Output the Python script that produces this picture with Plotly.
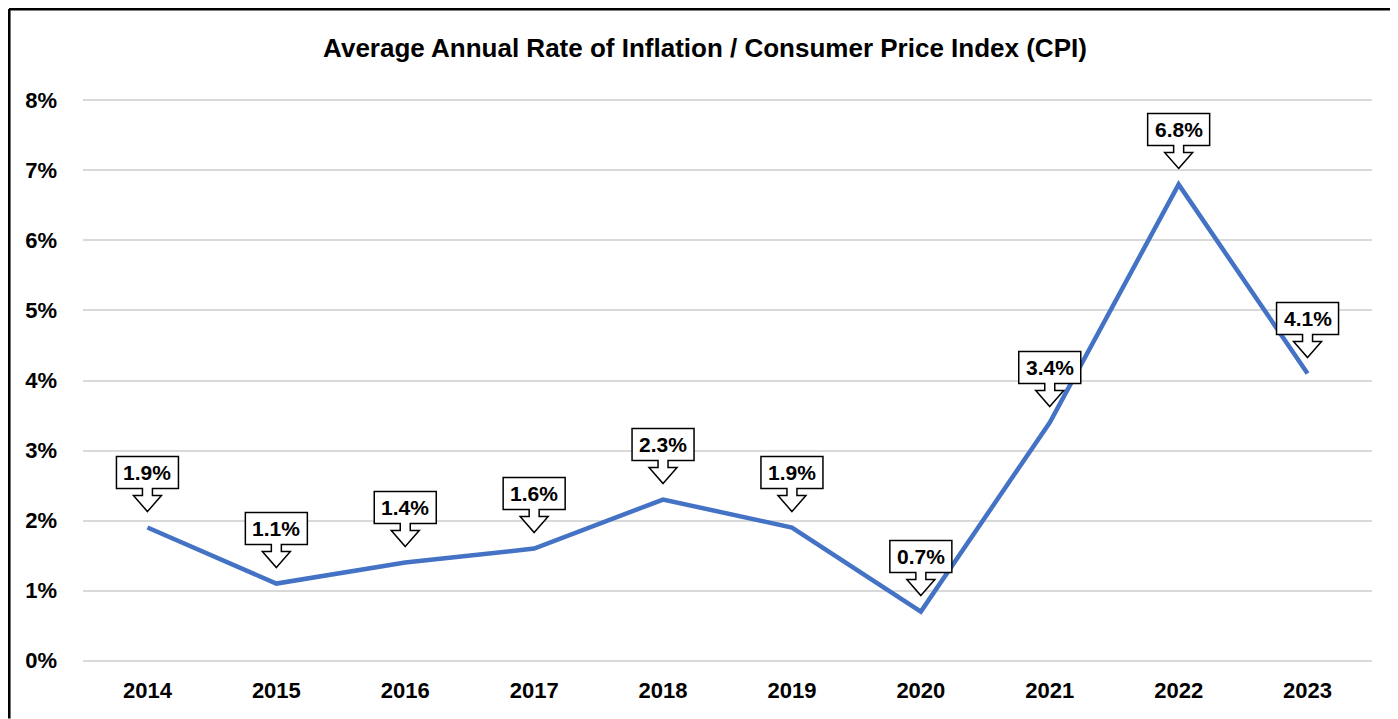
import plotly.graph_objects as go

years = ["2014", "2015", "2016", "2017", "2018", "2019", "2020", "2021", "2022", "2023"]
cpi_rate = [1.9, 1.1, 1.4, 1.6, 2.3, 1.9, 0.7, 3.4, 6.8, 4.1]
y_ticks = [0, 1, 2, 3, 4, 5, 6, 7, 8]

# page adds an 8px body margin, so the figure is sized to the rest of the window
W, H = 1390, 711
M_L, M_R, M_T, M_B = 74.5, 25.5, 90.6, 56.6
FONT = "Liberation Sans, Arial, sans-serif"

# callout outline in pixels, relative to the data point (y up)
CALLOUT = [(0, 16), (14, 32), (5, 32), (5, 39), (31, 39), (31, 71),
           (-31, 71), (-31, 39), (-5, 39), (-5, 32), (-14, 32)]
callout_path = "M" + "L".join(f"{x},{y}" for x, y in CALLOUT) + "Z"

x_idx = list(range(len(years)))

fig = go.Figure()
fig.add_trace(
    go.Scatter(
        x=x_idx,
        y=cpi_rate,
        customdata=years,
        mode="lines",
        line={"color": "#4472C4", "width": 4.5},
        hovertemplate="%{customdata}: %{y:.1f}%<extra></extra>",
    )
)

for i, val in zip(x_idx, cpi_rate):
    fig.add_shape(
        type="path",
        xref="x", yref="y",
        xsizemode="pixel", ysizemode="pixel",
        xanchor=i, yanchor=val,
        path=callout_path,
        fillcolor="white",
        line={"color": "black", "width": 1.5},
        layer="above",
    )
    fig.add_annotation(
        x=i, y=val,
        text=f"<b>{val:.1f}%</b>",
        showarrow=False,
        yshift=55,
        font={"family": FONT, "size": 21, "color": "black"},
    )


def px_to_paper(px, py):
    pw = W - M_L - M_R
    ph = H - M_T - M_B
    return (px - M_L) / pw, (H - M_B - py) / ph


# outer border of the chart (only top and left edges are in view)
left, top = px_to_paper(0.5, 0.5)
right, bottom = px_to_paper(W, H)
for bx0, by0, bx1, by1 in [(left, top, right, top), (left, top, left, bottom)]:
    fig.add_shape(
        type="line", xref="paper", yref="paper",
        x0=bx0, y0=by0, x1=bx1, y1=by1,
        line={"color": "black", "width": 3},
        layer="above",
    )

fig.update_layout(
    width=W,
    height=H,
    margin={"l": M_L, "r": M_R, "t": M_T, "b": M_B},
    paper_bgcolor="white",
    plot_bgcolor="white",
    showlegend=False,
    title={
        "text": "<b>Average Annual Rate of Inflation / Consumer Price Index (CPI)</b>",
        "x": 697 / W,
        "xanchor": "center",
        "y": 1 - 40 / H,
        "yanchor": "middle",
        "font": {"family": FONT, "size": 26, "color": "black"},
    },
    xaxis={
        "range": [-0.5, len(years) - 0.5],
        "tickvals": x_idx,
        "ticktext": years,
        "showgrid": False,
        "showline": False,
        "zeroline": False,
        "ticks": "",
        "automargin": False,
        "ticklabelstandoff": 13,
        "tickfont": {"family": FONT, "size": 22, "color": "black", "weight": "bold"},
    },
    yaxis={
        "range": [-0.02, 8.02],
        "tickvals": y_ticks,
        "ticktext": [f"{v}%" for v in y_ticks],
        "showgrid": True,
        "gridcolor": "#D9D9D9",
        "gridwidth": 2,
        "zeroline": False,
        "showline": False,
        "ticks": "",
        "automargin": False,
        "ticklabelstandoff": 25,
        "tickfont": {"family": FONT, "size": 22, "color": "black", "weight": "bold"},
    },
)

fig.write_html(
    "out.html",
    config={"displayModeBar": False},
    post_script="document.body.style.overflow='hidden';",
)
